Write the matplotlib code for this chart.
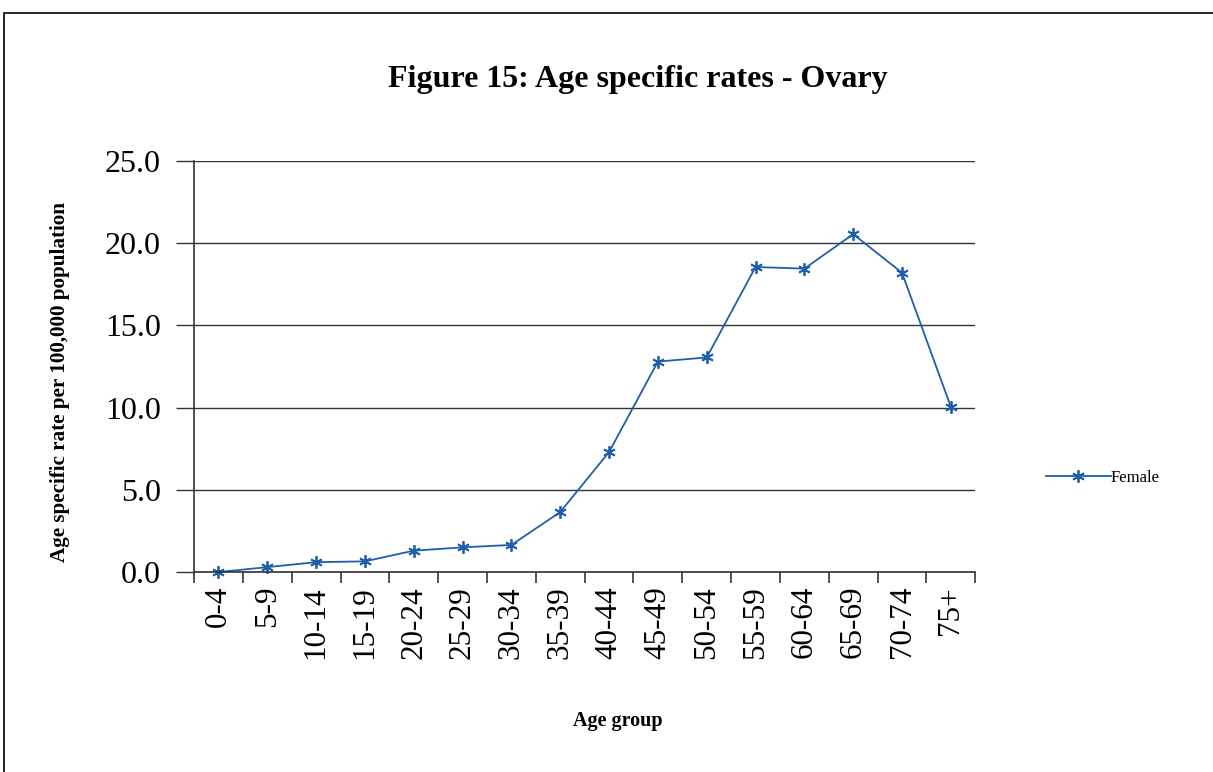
import matplotlib.pyplot as plt
from matplotlib.patches import Rectangle

age_groups = ["0-4", "5-9", "10-14", "15-19", "20-24", "25-29", "30-34", "35-39",
              "40-44", "45-49", "50-54", "55-59", "60-64", "65-69", "70-74", "75+"]
female = [0.0, 0.3, 0.6, 0.65, 1.3, 1.5, 1.65, 3.65,
          7.3, 12.8, 13.05, 18.55, 18.45, 20.55, 18.2, 10.05]
yticks = [0, 5, 10, 15, 20, 25]

plt.rcParams['font.family'] = ['Liberation Serif', 'DejaVu Serif']

fig = plt.figure(figsize=(12.13, 7.72), dpi=100)
ax = fig.add_axes([0.16, 0.259, 0.644, 0.5325])

# outer frame
fig.patches.append(Rectangle((4 / 1213, -0.1), 1.2, 1 - 13 / 772 + 0.1,
                             transform=fig.transFigure, fill=False,
                             edgecolor='black', lw=1.2))

x = list(range(len(age_groups)))
ax.plot(x, female, color='#1f5fa8', lw=1.3, marker=(6, 2, 0), markersize=9,
        markeredgewidth=1.3, label='Female', clip_on=False)

ax.set_xlim(-0.5, len(age_groups) - 0.5)
ax.set_ylim(0, 25)
ax.set_yticks(yticks)
ax.set_yticklabels([f"{v:.1f}" for v in yticks], fontsize=23)
ax.yaxis.grid(True, color='#333333', lw=1)
ax.set_axisbelow(True)

ax.set_xticks(x)
ax.set_xticklabels(age_groups, rotation=90, fontsize=22.4)
ax.tick_params(axis='x', which='major', length=0, pad=10)
ax.set_xticks([i - 0.5 for i in range(len(age_groups) + 1)], minor=True)
ax.tick_params(axis='x', which='minor', length=8, width=1.2, color='#333333')
ax.tick_params(axis='y', length=13, width=1, color='#333333', pad=11)

for s in ['top', 'right']:
    ax.spines[s].set_visible(False)
ax.spines['left'].set_color('#333333')
ax.spines['bottom'].set_color('#333333')
ax.spines['left'].set_linewidth(1.2)
ax.spines['bottom'].set_linewidth(1.2)

fig.text(638 / 1213, 1 - 80 / 772, "Figure 15: Age specific rates - Ovary",
         ha='center', va='center', fontsize=23, fontweight='bold')
fig.text(60 / 1213, 1 - 382 / 772, "Age specific rate per 100,000 population",
         ha='center', va='center', rotation=90, fontsize=15.2, fontweight='bold')
fig.text(618 / 1213, 1 - 721 / 772, "Age group",
         ha='center', va='center', fontsize=14.5, fontweight='bold')

fig.legend(loc='center left', bbox_to_anchor=(1039 / 1213, 1 - 478 / 772),
           frameon=False, fontsize=12, handlelength=3.9, handletextpad=0,
           borderaxespad=0)

fig.savefig("out.png", dpi=100)
